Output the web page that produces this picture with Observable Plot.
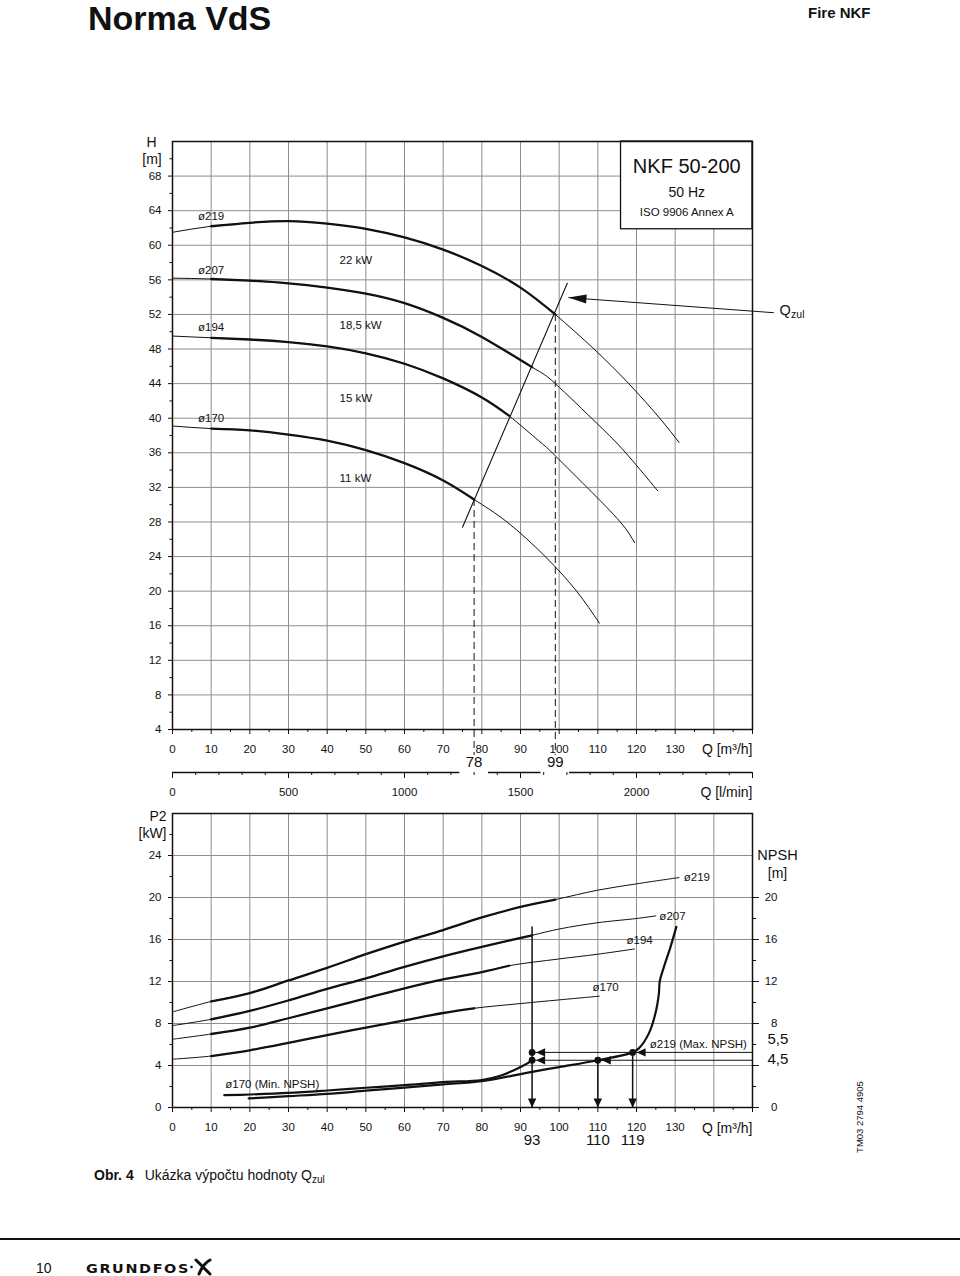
<!DOCTYPE html>
<html lang="cs">
<head>
<meta charset="utf-8">
<title>NKF 50-200</title>
<script src="https://cdn.jsdelivr.net/npm/d3@7"></script>
<script src="https://cdn.jsdelivr.net/npm/@observablehq/plot@0.6"></script>
<style>
html, body { margin:0; padding:0; background:#fff; }
#page { position:relative; width:960px; height:1276px; overflow:hidden; font-family:"Liberation Sans", Arial, Helvetica, sans-serif; color:#111; }
.abs { position:absolute; white-space:nowrap; line-height:1; }
#page svg.chart { position:absolute; left:0; overflow:visible; }
</style>
</head>
<body>
<div id="page">
  <div class="abs" style="left:88px; top:1px; font-weight:bold; font-size:34px;">Norma VdS</div>
  <div class="abs" style="left:808px; top:5px; font-weight:bold; font-size:15px;">Fire NKF</div>
  <div class="abs" style="left:94px; top:1168px; font-size:14px;"><b>Obr. 4</b><span style="margin-left:11px">Ukázka výpočtu hodnoty Q<sub style="font-size:10px; vertical-align:-3px">zul</sub></span></div>
  <div class="abs" style="left:0; top:1238px; width:960px; height:2px; background:#111;"></div>
  <div class="abs" style="left:36px; top:1261px; font-size:14px;">10</div>
  <div class="abs" style="left:86px; top:1264px; font-family:'DejaVu Sans'; font-weight:bold; font-size:11.5px; letter-spacing:1.3px; transform:scaleX(1.25); transform-origin:left top;">GRUNDFOS</div>
  <svg class="abs" style="left:190px; top:1258px;" width="26" height="18" viewBox="0 0 26 18">
    <circle cx="1.5" cy="9" r="1.3" fill="#111"/>
    <path d="M6 2 L20 16 M20 2 Q13 6 9 16" stroke="#111" stroke-width="3" fill="none" stroke-linecap="round"/>
  </svg>
  <div class="abs" style="left:859.7px; top:1116.7px; font-size:9.5px; transform:translate(-50%,-50%) rotate(-90deg);">TM03 2794 4905</div>
</div>
<script>
// ------------------------------------------------------------------
// DATA
// ------------------------------------------------------------------
const diameters = ["ø219", "ø207", "ø194", "ø170"];

// Head curves H [m] vs Q [m³/h]
const head219 = [[0,61.5],[10,62.2],[20,62.6],[30,62.8],[40,62.5],[50,61.9],[60,60.9],[70,59.5],[80,57.6],[90,55.1],[99,52.0],[109,48.0],[118,44.0],[126,40.0],[131,37.2]];
const head207 = [[0,56.2],[10,56.1],[20,55.9],[30,55.6],[40,55.1],[50,54.4],[60,53.3],[70,51.6],[80,49.4],[93,45.9],[99,44.0],[110,39.3],[117,36.1],[125.5,31.6]];
const head194 = [[0,49.5],[10,49.3],[20,49.1],[30,48.8],[40,48.3],[50,47.5],[60,46.3],[70,44.6],[80,42.4],[87,40.3],[94.7,37.4],[98.2,36.0],[107.2,32.0],[115.8,28.0],[119.5,25.6]];
const head170 = [[0,39.1],[10,38.8],[20,38.6],[30,38.1],[40,37.4],[50,36.3],[60,34.8],[70,32.8],[78,30.6],[86.5,28.0],[96.4,24.0],[104.5,20.0],[110.4,16.3]];

// Power curves P2 [kW] vs Q [m³/h]
const power219 = [[0,9.1],[10,10.1],[20,10.9],[30,12.1],[40,13.3],[50,14.6],[60,15.8],[70,16.9],[80,18.1],[90,19.1],[99,19.8],[110,20.7],[120,21.3],[131,21.9]];
const power207 = [[0,7.8],[10,8.4],[20,9.2],[30,10.2],[40,11.3],[50,12.3],[60,13.4],[70,14.4],[80,15.3],[93,16.4],[100,17.0],[110,17.6],[120,18.0],[125,18.25]];
const power194 = [[0,6.5],[10,7.0],[20,7.6],[30,8.5],[40,9.45],[50,10.4],[60,11.35],[70,12.2],[80,12.9],[87,13.5],[100,14.15],[110,14.6],[119.5,15.1]];
const power170 = [[0,4.6],[10,4.9],[20,5.45],[30,6.15],[40,6.9],[50,7.6],[60,8.3],[70,9.0],[78,9.45],[90,9.9],[100,10.25],[110.4,10.6]];

// NPSH [m] vs Q [m³/h]
const npshMin170 = [[13.4,1.17],[20,1.24],[30,1.39],[40,1.62],[50,1.88],[60,2.13],[70,2.42],[80,2.62],[85,3.05],[88,3.5],[90,3.85],[92,4.25],[93,4.5]];
const npshMax219 = [[19.7,0.86],[30,1.08],[40,1.3],[50,1.6],[60,1.9],[70,2.2],[80,2.5],[93,3.4],[100,3.85],[110,4.5],[119,5.25],[120.6,5.63],[123.2,7.06],[124.9,8.97],[125.8,10.9],[126,12.0],[127.1,13.4],[128.8,15.3],[130.3,17.2]];

// Duty point (intersection with the Qzul line) of each impeller
const dutyQ = {"ø219": 99, "ø207": 93, "ø194": 87, "ø170": 78};
const thickFromQ = 10;

// Labels / annotations
const headLabels = [{d:"ø219", q:10, h:63.4},{d:"ø207", q:10, h:57.1},{d:"ø194", q:10, h:50.5},{d:"ø170", q:10, h:40.0}];
const powerLabels = [{text:"22 kW", q:43.2, h:58.3},{text:"18,5 kW", q:43.2, h:50.8},{text:"15 kW", q:43.2, h:42.3},{text:"11 kW", q:43.2, h:33.1}];
const titleBox = {q1:116, q2:150, h1:61.85, h2:72};
const titleLines = [{text:"NKF 50-200", q:133, h:69.05},{text:"50 Hz", q:133, h:66.1},{text:"ISO 9906 Annex A", q:133, h:63.85}];
const systemLine = [{q:75, h:27.4},{q:102.1, h:55.6}];
const qzulMarks = [{q:78, h:30.6},{q:99, h:52.0}];
const qzulArrow = {q1:155.5, h1:52.2, q2:102.4, h2:53.95};
const qzulLabel = [{q:157, h:52.5}];

const p2Labels = [{d:"ø219", q:135.6, v:21.95},{d:"ø207", q:129.3, v:18.2},{d:"ø194", q:120.8, v:15.9},{d:"ø170", q:112, v:11.45}];
const npshCurveLabels = [{text:"ø170 (Min. NPSH)", q:25.8, v:2.22},{text:"ø219 (Max. NPSH)", q:136, v:6.04}];
const dutyPoints = [{q:93, v:5.25},{q:93, v:4.5},{q:110, v:4.5},{q:119, v:5.25}];
const npshLevels = [{v:5.25, from:93, label:"5,5"},{v:4.5, from:93, label:"4,5"}];
const readLines = [{q:93, top:17.2},{q:110, top:4.5},{q:119, top:5.25}];

// Scales / ticks
const qDomain = [0, 150];
const qMajor = d3.range(0, 151, 10);
const qMinor = d3.range(5, 150, 10);
const qGrid = d3.range(10, 141, 10);
const qLabelMax = 130;
const hDomain = [4, 72];
const hMajor = d3.range(4, 69, 4);
const hMinor = d3.range(6, 71, 4);
const hGrid = d3.range(8, 69, 4);
const lminDomain = [0, 2500];
const lminMajor = d3.range(0, 2501, 500);
const lminMinor = d3.range(100, 2500, 100).filter(v => v % 500);
const lminLabelMax = 2000;
const pDomain = [0, 28];
const pMajor = d3.range(0, 25, 4);
const pMinor = d3.range(2, 27, 4);
const pGrid = d3.range(4, 25, 4);
const npshMajor = d3.range(0, 21, 4);
const npshMinor = d3.range(2, 19, 4);
const npshTickLabels = [0, 8, 12, 16, 20];

// ------------------------------------------------------------------
// BUILD
// ------------------------------------------------------------------
const FONT = '"Liberation Sans", Arial, Helvetica, sans-serif';
const INK = "#111";
const GRID = "#8e8e8e";
const W = 960, ML = 172, MR = 208;

const headCurves = {"ø219": head219, "ø207": head207, "ø194": head194, "ø170": head170};
const powerCurves = {"ø219": power219, "ø207": power207, "ø194": power194, "ø170": power170};
const toRows = curves => diameters.flatMap(d => curves[d].map(([q, v]) => ({d, q, v})));
const headRows = toRows(headCurves);
const powerRows = toRows(powerCurves);
const thickPart = rows => rows.filter(r => r.q >= thickFromQ && r.q <= dutyQ[r.d]);
const npshRows = [
  ...npshMin170.map(([q, v]) => ({d: "min", q, v})),
  ...npshMax219.map(([q, v]) => ({d: "max", q, v}))
];

// filled arrow heads (tip at the anchor point, body along the given angle)
function arrowHead(angle, len, half) {
  const c = Math.cos(angle), s = Math.sin(angle);
  return {draw(ctx) {
    const bx = len * c, by = len * s;
    ctx.moveTo(0, 0);
    ctx.lineTo(bx - half * s, by + half * c);
    ctx.lineTo(bx + half * s, by - half * c);
    ctx.closePath();
  }};
}
const topInner = {w: W - ML - MR, h: 800 - 141 - 71};
const pxQ = topInner.w / (qDomain[1] - qDomain[0]);
const pxH = topInner.h / (hDomain[1] - hDomain[0]);
const qzulAngle = Math.atan2((qzulArrow.h2 - qzulArrow.h1) * pxH, (qzulArrow.q1 - qzulArrow.q2) * pxQ);
const arrowQzul = arrowHead(qzulAngle, 18, 4.5);
const arrowLeft = arrowHead(0, 9, 4.2);
const arrowDown = arrowHead(-Math.PI / 2, 9, 4.2);

const baseStyle = {fontFamily: FONT, fontSize: "11.5px", color: INK, background: "transparent", overflow: "visible"};
const M = {lineAnchor: "middle"};

// ---------- Top panel ----------
const topPlot = Plot.plot({
  width: W, height: 800, marginLeft: ML, marginRight: MR, marginTop: 141, marginBottom: 71,
  x: {domain: qDomain, axis: null, label: null},
  y: {domain: hDomain, axis: null, label: null},
  style: baseStyle,
  marks: [
    Plot.ruleX(qGrid, {stroke: GRID, strokeWidth: 1}),
    Plot.ruleY(hGrid, {stroke: GRID, strokeWidth: 1}),
    Plot.rect([titleBox], {x1: "q1", x2: "q2", y1: "h1", y2: "h2", fill: "white", stroke: INK, strokeWidth: 1.3}),
    Plot.text(titleLines.slice(0, 1), {x: "q", y: "h", text: "text", fontSize: 20}),
    Plot.text(titleLines.slice(1, 2), {x: "q", y: "h", text: "text", fontSize: 14}),
    Plot.text(titleLines.slice(2, 3), {x: "q", y: "h", text: "text", fontSize: 11.5}),
    Plot.line(headRows, {x: "q", y: "v", z: "d", curve: "natural", stroke: INK, strokeWidth: 1}),
    Plot.line(thickPart(headRows), {x: "q", y: "v", z: "d", curve: "natural", stroke: INK, strokeWidth: 2.3}),
    Plot.line(systemLine, {x: "q", y: "h", stroke: INK, strokeWidth: 1.1}),
    Plot.ruleX(qzulMarks, {x: "q", y1: "h", y2: () => hDomain[0], stroke: INK, strokeWidth: 1, strokeDasharray: "7,4", insetBottom: -26}),
    Plot.link([qzulArrow], {x1: "q1", y1: "h1", x2: "q2", y2: "h2", stroke: INK, strokeWidth: 1}),
    Plot.dot([qzulArrow], {x: "q2", y: "h2", symbol: arrowQzul, fill: INK, stroke: "none"}),
    Plot.text(qzulLabel, {x: "q", y: "h", text: () => "Q", textAnchor: "start", fontSize: 14.5}),
    Plot.text(qzulLabel, {x: "q", y: "h", text: () => "zul", textAnchor: "start", fontSize: 10.5, dx: 11.5, dy: 5}),
    Plot.text(headLabels, {x: "q", y: "h", text: "d", fontSize: 11.5}),
    Plot.text(powerLabels, {x: "q", y: "h", text: "text", textAnchor: "start", fontSize: 11.5}),
    Plot.text(qzulMarks, {...M, x: "q", frameAnchor: "bottom", dy: 33, text: d => String(d.q), fontSize: 15}),
    Plot.frame({stroke: INK, strokeWidth: 1.5}),
    Plot.axisX(qMajor, {tickSize: 5, tickPadding: 10, tickFormat: d => d <= qLabelMax ? String(d) : "", label: null, fontSize: 11.5}),
    Plot.axisX(qMinor, {tickSize: 3, tickFormat: () => "", label: null}),
    Plot.axisY(hMajor, {tickSize: 4, tickPadding: 7, label: null, fontSize: 11.5}),
    Plot.axisY(hMinor, {tickSize: 2.5, tickFormat: () => "", label: null}),
    Plot.text(["Q [m³/h]"], {...M, frameAnchor: "bottom-right", textAnchor: "end", dy: 20, fontSize: 14}),
    Plot.text(["H"], {...M, frameAnchor: "top-left", textAnchor: "middle", dx: -21, dy: 1, fontSize: 14}),
    Plot.text(["[m]"], {...M, frameAnchor: "top-left", textAnchor: "middle", dx: -20.5, dy: 18, fontSize: 14})
  ]
});

// ---------- Secondary Q axis in l/min ----------
const toLmin = q => q * 1000 / 60;
const gapHalf = toLmin(3.7);
const cuts = qzulMarks.map(d => toLmin(d.q));
const lminSegments = [];
{
  let start = lminDomain[0];
  for (const c of cuts) { lminSegments.push({a: start, b: c - gapHalf}); start = c + gapHalf; }
  lminSegments.push({a: start, b: lminDomain[1]});
}
const lminPlot = Plot.plot({
  width: W, height: 40, marginLeft: ML, marginRight: MR, marginTop: 10, marginBottom: 30,
  x: {domain: lminDomain, axis: null, label: null},
  y: {domain: [0, 1], axis: null, label: null},
  style: baseStyle,
  marks: [
    Plot.ruleY(lminSegments, {x1: "a", x2: "b", y: () => 0, stroke: INK, strokeWidth: 1.3}),
    Plot.axisX(lminMajor, {tickSize: 6, tickPadding: 9, tickFormat: d => d <= lminLabelMax ? String(d) : "", label: null, fontSize: 11.5}),
    Plot.axisX(lminMinor, {tickSize: 3, tickFormat: () => "", label: null}),
    Plot.text(["Q [l/min]"], {...M, frameAnchor: "bottom-right", textAnchor: "end", dy: 20, fontSize: 14})
  ]
});

// ---------- Bottom panel ----------
const bottomPlot = Plot.plot({
  width: W, height: 360, marginLeft: ML, marginRight: MR, marginTop: 13, marginBottom: 53,
  x: {domain: qDomain, axis: null, label: null},
  y: {domain: pDomain, axis: null, label: null},
  style: baseStyle,
  marks: [
    Plot.ruleX(qGrid, {stroke: GRID, strokeWidth: 1}),
    Plot.ruleY(pGrid, {stroke: GRID, strokeWidth: 1}),
    Plot.line(powerRows, {x: "q", y: "v", z: "d", curve: "catmull-rom", stroke: INK, strokeWidth: 1}),
    Plot.line(thickPart(powerRows), {x: "q", y: "v", z: "d", curve: "catmull-rom", stroke: INK, strokeWidth: 2.3}),
    Plot.text(p2Labels, {x: "q", y: "v", text: "d", fontSize: 11.5}),
    Plot.line(npshRows, {x: "q", y: "v", z: "d", curve: "catmull-rom", stroke: INK, strokeWidth: 2.2}),
    Plot.ruleY(npshLevels, {y: "v", x1: "from", x2: () => qDomain[1], stroke: INK, strokeWidth: 1}),
    Plot.ruleX(readLines, {x: "q", y1: "top", y2: () => 0, stroke: INK, strokeWidth: 1.5}),
    Plot.dot(dutyPoints, {x: "q", y: "v", r: 3.4, fill: INK, stroke: "none"}),
    Plot.dot(dutyPoints, {x: "q", y: "v", symbol: arrowLeft, fill: INK, stroke: "none", dx: 4}),
    Plot.dot(readLines, {x: "q", y: () => 0, symbol: arrowDown, fill: INK, stroke: "none"}),
    Plot.text(npshCurveLabels, {x: "q", y: "v", text: "text", fontSize: 11.5}),
    Plot.text(readLines, {...M, x: "q", frameAnchor: "bottom", dy: 33, text: d => String(d.q), fontSize: 15}),
    Plot.frame({stroke: INK, strokeWidth: 1.5}),
    Plot.axisX(qMajor, {tickSize: 5, tickPadding: 10, tickFormat: d => d <= qLabelMax ? String(d) : "", label: null, fontSize: 11.5}),
    Plot.axisX(qMinor, {tickSize: 3, tickFormat: () => "", label: null}),
    Plot.axisY(pMajor, {tickSize: 4, tickPadding: 7, label: null, fontSize: 11.5}),
    Plot.axisY(pMinor, {tickSize: 2.5, tickFormat: () => "", label: null}),
    Plot.axisY(npshMajor, {anchor: "right", tickSize: 6, tickFormat: () => "", label: null}),
    Plot.axisY(npshMinor, {anchor: "right", tickSize: 3, tickFormat: () => "", label: null}),
    Plot.text(npshTickLabels, {...M, y: d => d, text: d => String(d), frameAnchor: "right", textAnchor: "end", dx: 25, fontSize: 11.5}),
    Plot.text(npshLevels.slice(0, 1), {...M, y: "v", text: "label", frameAnchor: "right", textAnchor: "start", dx: 15, dy: -13, fontSize: 15}),
    Plot.text(npshLevels.slice(1, 2), {...M, y: "v", text: "label", frameAnchor: "right", textAnchor: "start", dx: 15, dy: -1, fontSize: 15}),
    Plot.text(["Q [m³/h]"], {...M, frameAnchor: "bottom-right", textAnchor: "end", dy: 21, fontSize: 14}),
    Plot.text(["P2"], {...M, frameAnchor: "top-left", textAnchor: "middle", dx: -14.5, dy: 3, fontSize: 14}),
    Plot.text(["[kW]"], {...M, frameAnchor: "top-left", textAnchor: "middle", dx: -20, dy: 20, fontSize: 14}),
    Plot.text(["NPSH"], {...M, frameAnchor: "top-right", textAnchor: "middle", dx: 25, dy: 42, fontSize: 14.5}),
    Plot.text(["[m]"], {...M, frameAnchor: "top-right", textAnchor: "middle", dx: 25, dy: 60, fontSize: 14})
  ]
});

const page = document.getElementById("page");
function place(svg, top) { svg.classList.add("chart"); svg.style.top = top + "px"; page.append(svg); }
place(topPlot, 0);
place(lminPlot, 762);
place(bottomPlot, 800);
</script>
</body>
</html>
